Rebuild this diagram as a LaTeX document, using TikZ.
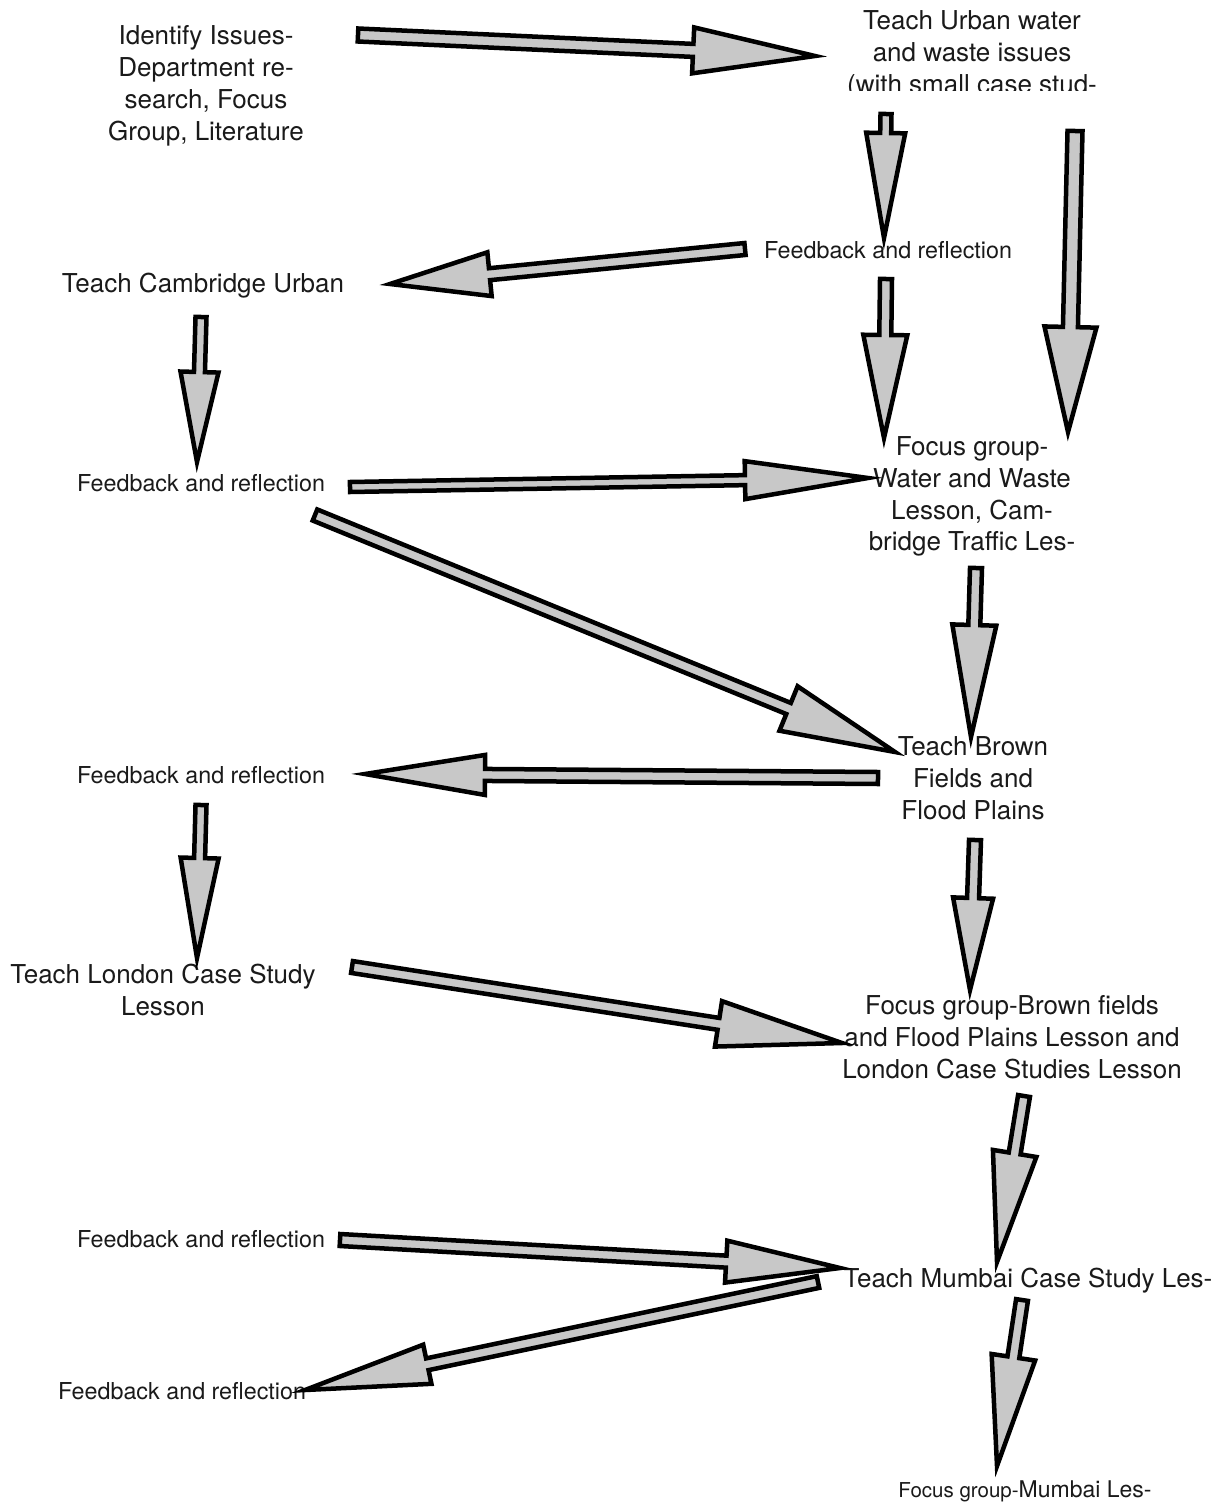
\documentclass[tikz,border=0pt]{standalone}
\usepackage{fontspec}
\setmainfont{TeX Gyre Heros}
\usetikzlibrary{calc}
\definecolor{arrowfill}{HTML}{C8C8C8}
\definecolor{txt}{HTML}{1A1A1A}
\tikzset{
  big/.style={inner sep=0pt,align=center,text=txt,font=\fontsize{26}{31.8}\selectfont},
  small/.style={inner sep=0pt,align=center,text=txt,font=\fontsize{23.3}{28}\selectfont},
  blockarrow/.style={draw=black,fill=arrowfill,line width=4.5pt,line join=miter,miter limit=20}
}
\newcommand\barrow[5]{%
  \coordinate (bah) at ($(#2)!#5!(#1)$);
  \draw[blockarrow] ($(#1)!#3!90:(#2)$) -- ($(bah)!#3!90:(#2)$) -- ($(bah)!#4!90:(#2)$) -- (#2)
    -- ($(bah)!#4!-90:(#2)$) -- ($(bah)!#3!-90:(#2)$) -- ($(#1)!#3!-90:(#2)$) -- cycle;
}
\begin{document}
\begin{tikzpicture}[x=1pt,y=-1pt]
\useasboundingbox[fill=white] (0,0) rectangle (1223,1506);
% text nodes
\node[big] (n1) at (206,86) {Identify Issues-\\Department re-\\search, Focus\\Group, Literature};
\begin{scope}
\clip (700,0) rectangle (1223,91);
\node[big] (n2) at (972,55) {Teach Urban water\\and waste issues\\(with small case stud-};
\end{scope}
\node[small] (n3) at (888,250) {Feedback and reflection};
\node[big] (n4) at (203,286) {Teach Cambridge Urban};
\node[small] (n5) at (201,483) {Feedback and reflection};
\node[big] (n6) at (972,496.5) {Focus group-\\Water and Waste\\Lesson, Cam-\\bridge Traffic Les-};
\node[big] (n7) at (973,778) {Teach Brown\\Fields and\\Flood Plains};
\node[small] (n8) at (201,775) {Feedback and reflection};
\node[big] (n9) at (163,990) {Teach London Case Study\\Lesson};
\node[big] (n10) at (1012,1037) {Focus group-Brown fields\\and Flood Plains Lesson and\\London Case Studies Lesson};
\node[small] (n11) at (201,1239) {Feedback and reflection};
\node[big] (n12) at (1028,1281) {Teach Mumbai Case Study Les-};
\node[small] (n13) at (182,1391) {Feedback and reflection};
\node[big] (n14) at (1025,1491) {{\fontsize{20.5}{28}\selectfont Focus group-}{\fontsize{23}{28}\selectfont Mumbai Les-}};
% arrow end points
\coordinate (a1s) at (358,35);   \coordinate (a1e) at (815,56);
\coordinate (a2s) at (886,114);  \coordinate (a2e) at (884,238);
\coordinate (a3s) at (745,249);  \coordinate (a3e) at (390,284);
\coordinate (a4s) at (1075,131); \coordinate (a4e) at (1068,432);
\coordinate (a5s) at (886,279);  \coordinate (a5e) at (884,438);
\coordinate (a6s) at (201,317);  \coordinate (a6e) at (197,462);
\coordinate (a7s) at (350,487);  \coordinate (a7e) at (868,478);
\coordinate (a8s) at (315,515);  \coordinate (a8e) at (895,752);
\coordinate (a9s) at (976,568);  \coordinate (a9e) at (971,737);
\coordinate (a10s) at (878,778); \coordinate (a10e) at (365,774);
\coordinate (a11s) at (201,805); \coordinate (a11e) at (197,958);
\coordinate (a12s) at (975,840); \coordinate (a12e) at (970,990);
\coordinate (a13s) at (352,967); \coordinate (a13e) at (842,1043);
\coordinate (a14s) at (1024,1096); \coordinate (a14e) at (997,1262);
\coordinate (a15s) at (340,1240); \coordinate (a15e) at (840,1268);
\coordinate (a16s) at (818,1282); \coordinate (a16e) at (305,1390);
\coordinate (a17s) at (1022,1300); \coordinate (a17e) at (997,1466);
% arrows
\barrow{a1s}{a1e}{6.5pt}{23pt}{122pt}
\barrow{a2s}{a2e}{5.5pt}{19.5pt}{105pt}
\barrow{a3s}{a3e}{6pt}{22pt}{100pt}
\barrow{a4s}{a4e}{7.5pt}{26pt}{105pt}
\barrow{a5s}{a5e}{6pt}{22pt}{103pt}
\barrow{a6s}{a6e}{5.5pt}{19pt}{90pt}
\barrow{a7s}{a7e}{5pt}{19pt}{123pt}
\barrow{a8s}{a8e}{6pt}{24pt}{115pt}
\barrow{a9s}{a9e}{6pt}{22pt}{112pt}
\barrow{a10s}{a10e}{6pt}{20pt}{120pt}
\barrow{a11s}{a11e}{5.5pt}{19pt}{100pt}
\barrow{a12s}{a12e}{6pt}{20pt}{92pt}
\barrow{a13s}{a13e}{6pt}{23pt}{125pt}
\barrow{a14s}{a14e}{6pt}{22pt}{110pt}
\barrow{a15s}{a15e}{6pt}{21pt}{114pt}
\barrow{a16s}{a16e}{6pt}{20pt}{125pt}
\barrow{a17s}{a17e}{6pt}{22pt}{110pt}
\end{tikzpicture}
\end{document}
